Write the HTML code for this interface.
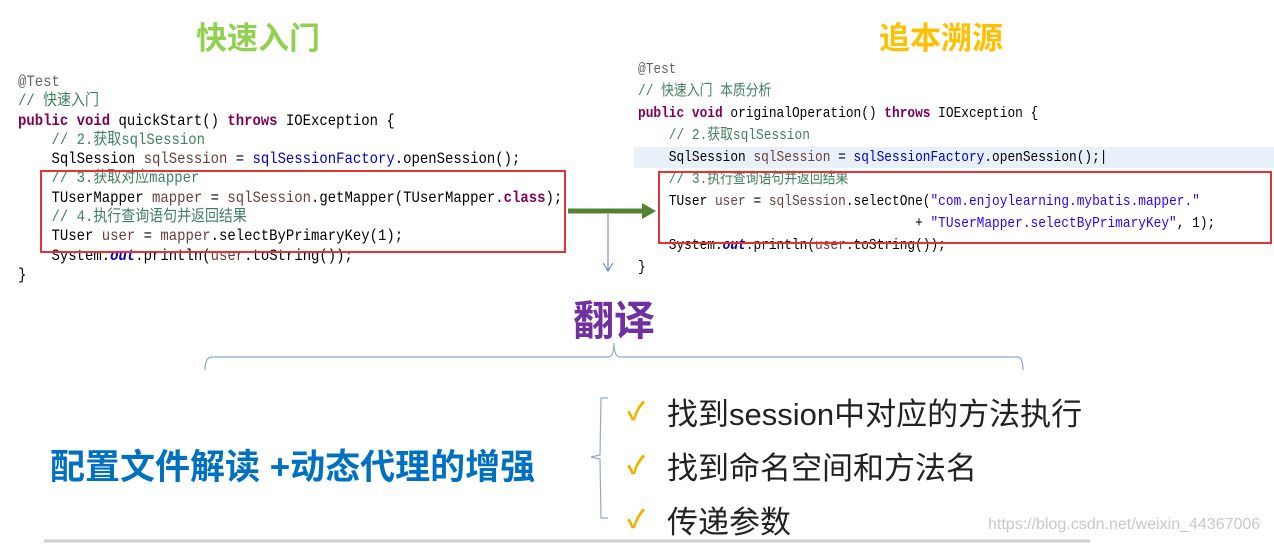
<!DOCTYPE html>
<html><head><meta charset="utf-8"><style>
body{margin:0;width:1274px;height:544px;background:#fff;position:relative;overflow:hidden;font-family:"Liberation Sans","Noto Sans CJK SC",sans-serif}
.a{position:absolute;white-space:pre}
.c1{font-family:"Liberation Mono","Noto Sans CJK SC",monospace;font-size:16px;color:#000;line-height:19.3px;transform:scaleX(0.872);transform-origin:0 0}
.c2{font-family:"Liberation Mono","Noto Sans CJK SC",monospace;font-size:15px;color:#000;line-height:22px;transform:scaleX(0.855);transform-origin:0 0}
.k{color:#7f0055;font-weight:bold}.cm{color:#3f7f5f}.v{color:#6a3e3e}.f{color:#0000c0}.s{color:#2a00ff}.o{color:#0000c0;font-weight:bold;font-style:italic}.an{color:#646464}
.t{font-weight:bold;font-size:31px}
.it{font-size:31px;color:#222}
.ck{color:#f0b400;font-size:25px;font-weight:bold}
</style></head><body>
<div class="a t" style="left:196px;top:13px;color:#92d050">快速入门</div>
<div class="a t" style="left:879px;top:13px;color:#ffc000">追本溯源</div>

<div class="a" style="left:634px;top:147px;width:640px;height:21px;background:#e8f0fa"></div>

<div class="a c1" style="left:18px;top:73px"><span class="an">@Test</span>
<span class="cm">// 快速入门</span>
<span class="k">public</span> <span class="k">void</span> quickStart() <span class="k">throws</span> IOException {
    <span class="cm">// 2.获取sqlSession</span>
    SqlSession <span class="v">sqlSession</span> = <span class="f">sqlSessionFactory</span>.openSession();
    <span class="cm">// 3.获取对应mapper</span>
    TUserMapper <span class="v">mapper</span> = <span class="v">sqlSession</span>.getMapper(TUserMapper.<span class="k">class</span>);
    <span class="cm">// 4.执行查询语句并返回结果</span>
    TUser <span class="v">user</span> = <span class="v">mapper</span>.selectByPrimaryKey(1);
    System.<span class="o">out</span>.println(<span class="v">user</span>.toString());
}</div>

<div class="a c2" style="left:638px;top:59px"><span class="an">@Test</span>
<span class="cm">// 快速入门 本质分析</span>
<span class="k">public</span> <span class="k">void</span> originalOperation() <span class="k">throws</span> IOException {
    <span class="cm">// 2.获取sqlSession</span>
    SqlSession <span class="v">sqlSession</span> = <span class="f">sqlSessionFactory</span>.openSession();|
    <span class="cm">// 3.执行查询语句并返回结果</span>
    TUser <span class="v">user</span> = <span class="v">sqlSession</span>.selectOne(<span class="s">"com.enjoylearning.mybatis.mapper."</span>
                                    + <span class="s">"TUserMapper.selectByPrimaryKey"</span>, 1);
    System.<span class="o">out</span>.println(<span class="v">user</span>.toString());
}</div>

<div class="a" style="left:40px;top:170px;width:522px;height:79px;border:2px solid #e53333"></div>
<div class="a" style="left:658px;top:171px;width:610px;height:69px;border:2px solid #e53333"></div>

<svg class="a" style="left:0;top:0" width="1274" height="544">
<line x1="568" y1="211" x2="644" y2="211" stroke="#548235" stroke-width="5"/>
<polygon points="642,203 656,211 642,219" fill="#548235"/>
<line x1="608" y1="214" x2="608" y2="270" stroke="#5b7fd0" stroke-width="1"/>
<polyline points="603,263 608,271 613,263" fill="none" stroke="#5b7fd0" stroke-width="1"/>
<path d="M205,370 Q205,357 212,357 L608,357 Q614,357 614,343 Q614,357 620,357 L1017,357 Q1023,357 1023,370" fill="none" stroke="#8fa8d8" stroke-width="1.2"/>
<path d="M608,398 L601,398 L600,455 L591,457 L600,459 L601,518 L608,518" fill="none" stroke="#8fa8d8" stroke-width="1.2"/>
<line x1="44" y1="541" x2="1090" y2="541" stroke="#cfcfcf" stroke-width="3"/>
</svg>

<div class="a" style="left:573px;top:287px;font-size:41px;font-weight:bold;color:#7030a0">翻译</div>
<div class="a" style="left:50px;top:439px;font-size:35px;font-weight:bold;color:#0070c0">配置文件解读 +动态代理的增强</div>

<div class="a ck" style="left:627px;top:392px">✓</div>
<div class="a it" style="left:667px;top:389px">找到session中对应的方法执行</div>
<div class="a ck" style="left:627px;top:446px">✓</div>
<div class="a it" style="left:667px;top:443px">找到命名空间和方法名</div>
<div class="a ck" style="left:627px;top:500px">✓</div>
<div class="a it" style="left:667px;top:497px">传递参数</div>

<div class="a" style="left:988px;top:516px;font-size:16px;color:#c8c8c8">https://blog.csdn.net/weixin_44367006</div>
</body></html>
